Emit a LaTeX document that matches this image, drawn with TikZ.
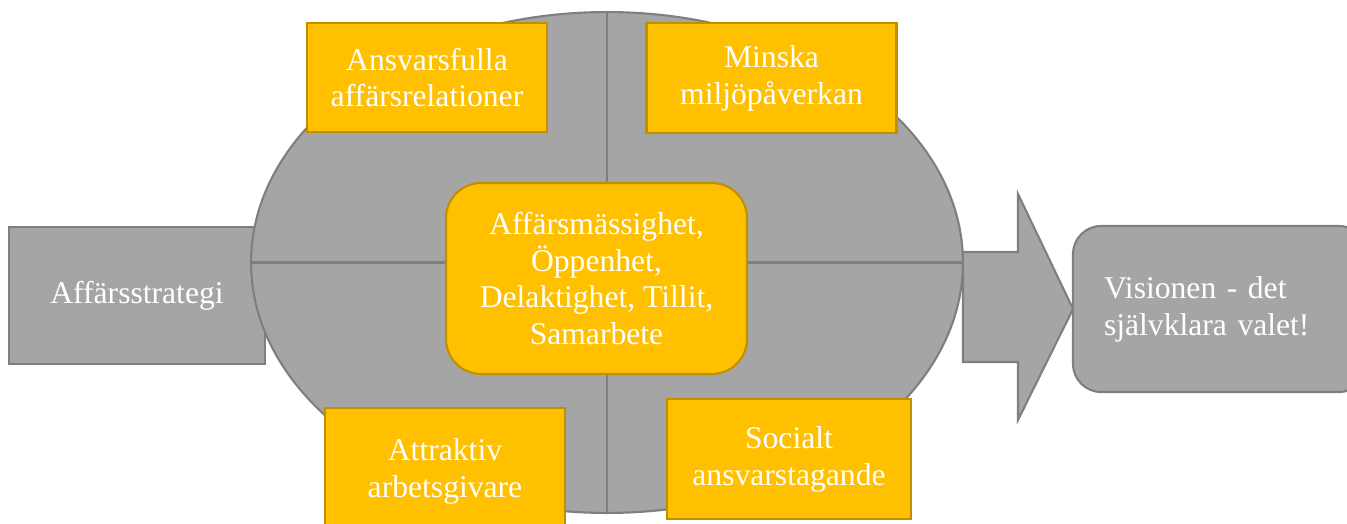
\documentclass[tikz,border=0pt]{standalone}
\usepackage{fontspec}
\setmainfont{Liberation Serif}
\usetikzlibrary{shapes.geometric}
\definecolor{gfill}{HTML}{A5A5A5}
\definecolor{gline}{HTML}{7F7F7F}
\definecolor{yfill}{HTML}{FFC000}
\definecolor{yline}{HTML}{BF9000}
\begin{document}
\begin{tikzpicture}[x=0.02cm,y=-0.02cm,
  basebox/.style={line width=1.2pt, text=white, font=\rmfamily\fontsize{18}{21}\selectfont, align=center, inner sep=0pt, outer sep=0pt},
  gbox/.style={basebox, draw=gline, fill=gfill},
  ybox/.style={basebox, draw=yline, fill=yfill},
  divider/.style={draw=gline, line width=1.5pt},
  bigarrow/.style={draw=gline, fill=gfill, line width=1.2pt, line join=miter}]
\useasboundingbox (0,0) rectangle (1347,524);

\node[gbox, minimum width=5.12cm, minimum height=2.74cm] (strat) at (137,295.5) {Affärsstrategi};

\node[gbox, ellipse, minimum width=14.24cm, minimum height=10.02cm] (ell) at (607,262.5) {};
\draw[divider] (ell.north) -- (ell.south);
\draw[divider] (ell.west) -- (ell.east);

\node[ybox, minimum width=4.8cm, minimum height=2.18cm] (ansv) at (427,77.5) {Ansvarsfulla\\affärsrelationer};
\node[ybox, minimum width=5.0cm, minimum height=2.2cm] (miljo) at (771.5,78) {Minska\\miljöpåverkan};
\node[ybox, rounded corners=0.7cm, minimum width=6.02cm, minimum height=3.82cm] (core) at (596.5,278.5) {Affärsmässighet,\\Öppenhet,\\Delaktighet, Tillit,\\Samarbete};
\node[ybox, minimum width=4.8cm, minimum height=2.54cm] (attr) at (445,471.5) {Attraktiv\\arbetsgivare};
\node[ybox, minimum width=4.88cm, minimum height=2.4cm] (soc) at (789,459) {Socialt\\ansvarstagande};

\node[gbox, rounded corners=0.56cm, minimum width=5.88cm, minimum height=3.32cm, text width=4.64cm, align=left, inner xsep=0.62cm] (vision) at (1220,309) {Visionen - det\\självklara valet!};

\draw[bigarrow] (963,252) -- (1018,252) -- (1018,194) -- (vision.west) -- (1018,420) -- (1018,362) -- (963,362) -- cycle;
\end{tikzpicture}
\end{document}
